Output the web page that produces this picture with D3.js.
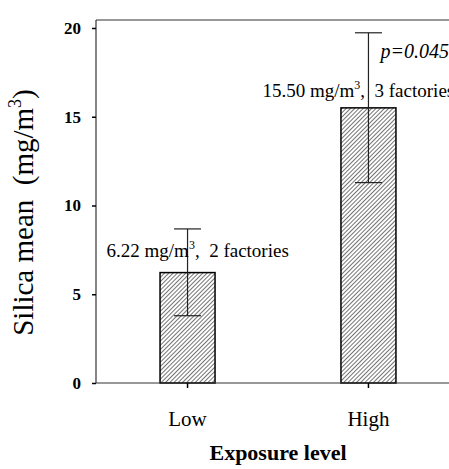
<!DOCTYPE html>
<html>
<head>
<meta charset="utf-8">
<script src="https://cdn.jsdelivr.net/npm/d3@7"></script>
<style>
  html, body { margin: 0; padding: 0; background: #fff; overflow: hidden; }
  svg { display: block; }
  text, tspan { font-family: "Liberation Serif", "Times New Roman", serif; fill: #000; }
</style>
</head>
<body>
<svg id="chart" width="449" height="469"></svg>
<script>
const categories = ["Low", "High"];
const means = [6.22, 15.50];
const errLow = [3.79, 11.29];
const errHigh = [8.68, 19.73];
const factories = [2, 3];
const yTicks = [0, 5, 10, 15, 20];
const pValue = "p=0.045";

(function () {
const FONT = "'Liberation Serif', 'Times New Roman', serif";
const svg = d3.select("#chart");
const mLeft = 96, mTop = 20, mBottom = 383, mRight = 460;

const x = d3.scaleBand().domain(categories).range([mLeft, mRight])
  .paddingInner(0.696).paddingOuter(0.354);
const y = d3.scaleLinear().domain([0, 20.45]).range([mBottom, mTop]);

// hatch pattern
const defs = svg.append("defs");
const pat = defs.append("pattern").attr("id", "hatch")
  .attr("patternUnits", "userSpaceOnUse").attr("width", 3).attr("height", 3)
  .attr("patternTransform", "rotate(45)");
pat.append("rect").attr("width", 3).attr("height", 3).attr("fill", "#fff");
pat.append("line").attr("x1", 0).attr("y1", 0).attr("x2", 0).attr("y2", 3)
  .attr("stroke", "#000").attr("stroke-width", 1.1);

// bars
svg.selectAll("rect.bar").data(categories).join("rect").attr("class", "bar")
  .attr("x", d => x(d)).attr("width", x.bandwidth())
  .attr("y", (d, i) => y(means[i])).attr("height", (d, i) => y(0) - y(means[i]))
  .attr("fill", "url(#hatch)").attr("stroke", "#000").attr("stroke-width", 1.5);

// error bars
const cx = d => x(d) + x.bandwidth() / 2;
const cap = 13.5;
const eb = svg.append("g").attr("stroke", "#222").attr("stroke-width", 1.2);
categories.forEach((c, i) => {
  eb.append("line").attr("x1", cx(c)).attr("x2", cx(c)).attr("y1", y(errHigh[i])).attr("y2", y(errLow[i]));
  eb.append("line").attr("x1", cx(c) - cap).attr("x2", cx(c) + cap).attr("y1", y(errHigh[i])).attr("y2", y(errHigh[i]));
  eb.append("line").attr("x1", cx(c) - cap).attr("x2", cx(c) + cap).attr("y1", y(errLow[i])).attr("y2", y(errLow[i]));
});

// frame line on top
svg.append("line").attr("x1", mLeft).attr("x2", 449).attr("y1", mTop).attr("y2", mTop)
  .attr("stroke", "#333").attr("stroke-width", 1.2);

// y axis
const yAxis = svg.append("g").attr("transform", `translate(${mLeft},0)`)
  .call(d3.axisLeft(y).tickValues(yTicks).tickFormat(d3.format("d")).tickSize(4).tickPadding(11));
yAxis.select(".domain").attr("stroke", "#333").attr("stroke-width", 1.2).attr("d", `M0,${mBottom}V${mTop}`);
yAxis.selectAll(".tick line").attr("stroke", "#000").attr("stroke-width", 1.5);
yAxis.selectAll(".tick text").attr("font-size", 17).attr("font-weight", "bold")
  .style("font-family", FONT).attr("fill", "#000");

// x axis
const xAxis = svg.append("g").attr("transform", `translate(0,${mBottom})`)
  .call(d3.axisBottom(x).tickSize(5).tickPadding(30));
xAxis.select(".domain").attr("stroke", "#333").attr("stroke-width", 1.2).attr("d", `M${mLeft},0H449`);
xAxis.selectAll(".tick line").attr("stroke", "#000").attr("stroke-width", 1.5);
xAxis.selectAll(".tick text").attr("font-size", 21).attr("dy", "0.4em")
  .style("font-family", FONT).attr("fill", "#000");

// annotations
const annOffsets = [[-81, 15.5], [-106, 10.7]];
categories.forEach((c, i) => {
  const t = svg.append("text").attr("font-size", 19).style("font-family", FONT)
    .attr("x", cx(c) + annOffsets[i][0])
    .attr("y", y(means[i]) - annOffsets[i][1]);
  t.append("tspan").style("font-family", FONT).text(d3.format(".2f")(means[i]) + " mg/m");
  t.append("tspan").style("font-family", FONT).attr("font-size", 12).attr("dy", -8).text("3");
  t.append("tspan").style("font-family", FONT).attr("dy", 8).text(",\u00a0\u00a0" + factories[i] + " factories");
});

svg.append("text").attr("x", cx("High") + 12).attr("y", 58).style("font-family", FONT)
  .attr("font-size", 20).attr("font-style", "italic").text(pValue);

// axis titles
const yt = svg.append("text").attr("transform", `translate(33,${(83 + 342) / 2}) rotate(-90)`)
  .attr("text-anchor", "middle").attr("font-size", 29).style("font-family", FONT);
yt.append("tspan").style("font-family", FONT).text("Silica mean\u00a0\u00a0(mg/m");
yt.append("tspan").style("font-family", FONT).attr("font-size", 18).attr("dy", -12).text("3");
yt.append("tspan").style("font-family", FONT).attr("dy", 12).text(")");

svg.append("text").attr("x", (mLeft + mRight) / 2).attr("y", 460).style("font-family", FONT)
  .attr("text-anchor", "middle").attr("font-size", 22).attr("font-weight", "bold")
  .text("Exposure level");
})();
</script>
</body>
</html>
